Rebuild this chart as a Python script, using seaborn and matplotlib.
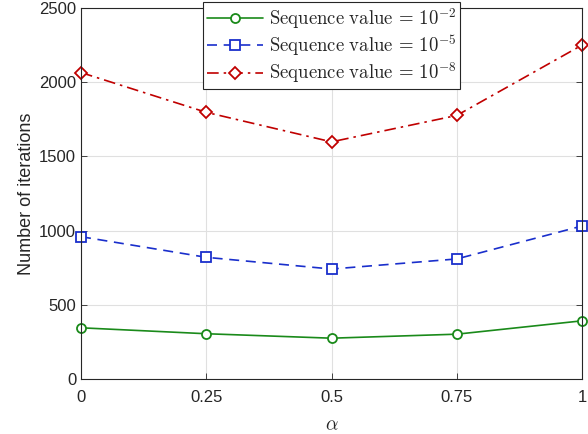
import matplotlib
matplotlib.use("Agg")
import matplotlib.pyplot as plt
import seaborn as sns
import pandas as pd

sns.set_style("ticks")
plt.rcParams['font.family'] = ['Liberation Sans', 'DejaVu Sans']
plt.rcParams['mathtext.fontset'] = 'cm'

alpha = [0, 0.25, 0.5, 0.75, 1]
seq_1e2 = [345, 305, 275, 302, 392]
seq_1e5 = [959, 820, 741, 809, 1031]
seq_1e8 = [2065, 1797, 1598, 1776, 2250]
labels = [r'$\mathrm{Sequence\ value}\,=\,10^{-2}$',
          r'$\mathrm{Sequence\ value}\,=\,10^{-5}$',
          r'$\mathrm{Sequence\ value}\,=\,10^{-8}$']
xticklabels = ['0', '0.25', '0.5', '0.75', '1']
yticks = [0, 500, 1000, 1500, 2000, 2500]

df = pd.DataFrame({
    'alpha': alpha * 3,
    'iters': seq_1e2 + seq_1e5 + seq_1e8,
    'series': [labels[0]] * 5 + [labels[1]] * 5 + [labels[2]] * 5,
})

colors = ['#1a8a1a', '#1a2fcc', '#c00000']
markers = ['o', 's', 'D']
dashes = ['-', (0, (6, 4)), (0, (7, 3, 1.5, 3))]
msizes = [6.5, 6.5, 6]

fig = plt.figure(figsize=(5.88, 4.34), dpi=100)
ax = fig.add_axes([81/588, 1-379/434, (582-81)/588, (379-8)/434])

for i, lab in enumerate(labels):
    sub = df[df['series'] == lab]
    sns.lineplot(data=sub, x='alpha', y='iters', ax=ax, color=colors[i],
                 marker=markers[i], markersize=msizes[i], markerfacecolor='white',
                 markeredgecolor=colors[i], markeredgewidth=1.3,
                 linestyle=dashes[i], linewidth=1.2, label=lab, clip_on=False)

ax.set_xlim(0, 1)
ax.set_ylim(0, 2500)
ax.set_xticks(alpha)
ax.set_xticklabels(xticklabels)
ax.set_yticks(yticks)
ax.grid(True, color='#e0e0e0', linewidth=0.8)
ax.set_axisbelow(True)
for s in ax.spines.values():
    s.set_visible(True)
    s.set_color('#262626')
    s.set_linewidth(0.8)
ax.tick_params(direction='in', length=4, width=0.6, colors='#262626',
               labelsize=12, top=True, right=True, labeltop=False, labelright=False)
ax.tick_params(axis='x', pad=8)
for t in ax.get_xticklabels() + ax.get_yticklabels():
    t.set_color('#262626')
ax.set_xlabel(r'$\alpha$', fontsize=14, color='#262626', labelpad=9)
ax.set_ylabel('Number of iterations', fontsize=13, color='#262626', labelpad=3)

leg = ax.legend(loc='upper center', bbox_to_anchor=(0.5 - 0.0, 1.016), fontsize=13.5,
                frameon=True, fancybox=False, edgecolor='#262626', framealpha=1,
                borderpad=0.2, labelspacing=0.12, handlelength=3.0, handletextpad=0.3,
                borderaxespad=0.0)
leg.get_frame().set_linewidth(0.8)
leg.set_zorder(10)

fig.savefig('out.png', dpi=100)
